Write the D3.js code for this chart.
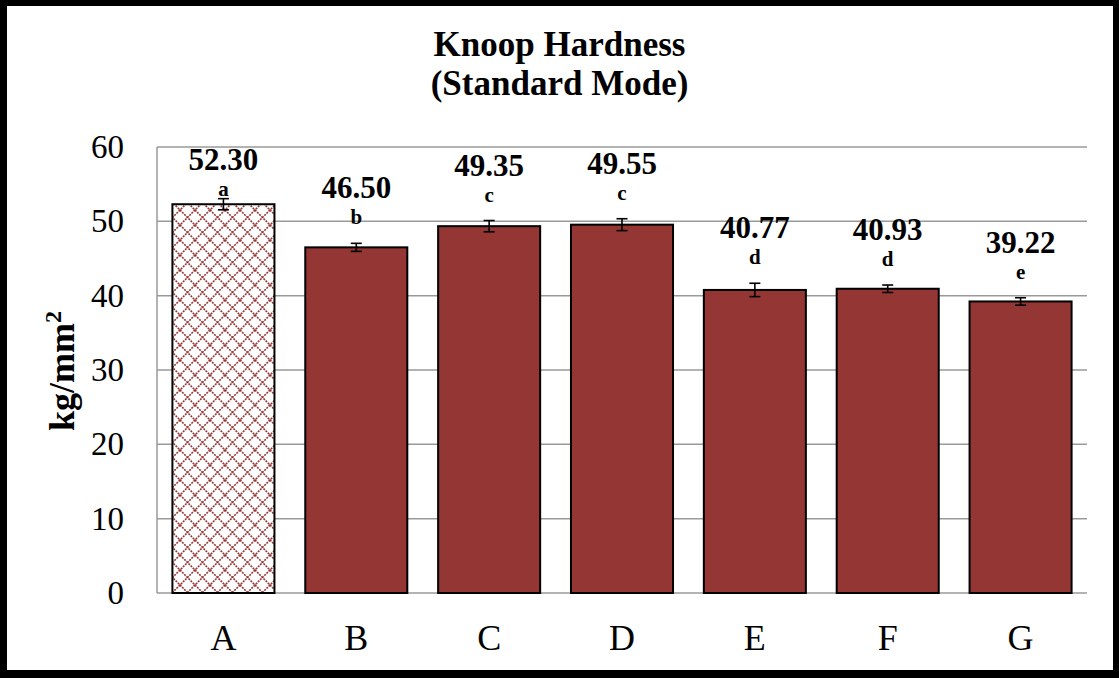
<!DOCTYPE html>
<html><head><meta charset="utf-8">
<script src="https://cdn.jsdelivr.net/npm/d3@7"></script>
<style>body{margin:0;background:#fff}svg{display:block}</style>
</head><body>
<svg id="c" width="1119" height="678"></svg>
<script>
const categories = ["A","B","C","D","E","F","G"];
const values = [52.30, 46.50, 49.35, 49.55, 40.77, 40.93, 39.22];
const errors = [0.75, 0.54, 0.76, 0.80, 0.90, 0.50, 0.50];
const letters = ["a","b","c","c","d","d","e"];
const yTicks = [0,10,20,30,40,50,60];
const patterned = [true,false,false,false,false,false,false];

const W = 1119, H = 678;
const svg = d3.select("#c");
const serif = "'Liberation Serif','Times New Roman',serif";
const barColor = "#943634";

svg.append("rect").attr("width",W).attr("height",H).attr("fill","#fff");

const defs = svg.append("defs");
const pat = defs.append("pattern").attr("id","lattice").attr("patternUnits","userSpaceOnUse")
  .attr("width",15).attr("height",15);
pat.append("rect").attr("width",15).attr("height",15).attr("fill","#fff");
pat.append("path").attr("d","M0,0 L15,15 M15,0 L0,15 M-1,14 L1,16 M14,-1 L16,1 M14,16 L16,14 M-1,1 L1,-1")
  .attr("stroke",barColor).attr("stroke-width",1.6).attr("stroke-dasharray","2,1");

const m = {left:157, right:1087, top:147, bottom:593};
const x = d3.scaleBand().domain(categories).range([m.left,m.right]).paddingInner(0.232).paddingOuter(0.116);
const y = d3.scaleLinear().domain([0,60]).range([m.bottom,m.top]);

svg.append("g").selectAll("line").data(yTicks).join("line")
  .attr("x1",m.left).attr("x2",m.right).attr("y1",d=>y(d)).attr("y2",d=>y(d))
  .attr("stroke","#9a9a9a").attr("stroke-width",1.5);
svg.append("line").attr("x1",m.left).attr("x2",m.left).attr("y1",y(60)).attr("y2",y(0))
  .attr("stroke","#9a9a9a").attr("stroke-width",1.5);

const yAxis = d3.axisLeft(y).tickValues(yTicks).tickSize(0).tickPadding(33).tickFormat(d3.format("d"));
const gy = svg.append("g").attr("transform",`translate(${m.left},0)`).call(yAxis);
gy.select(".domain").remove();
gy.selectAll("text").attr("font-family",serif).attr("font-size",33).attr("fill","#000");

const xAxis = d3.axisBottom(x).tickSize(0).tickPadding(0);
const gx = svg.append("g").attr("transform",`translate(0,${m.bottom})`).call(xAxis);
gx.select(".domain").remove();
gx.selectAll("text").attr("font-family",serif).attr("font-size",36).attr("fill","#000")
  .attr("dy",null).attr("y",57);

const data = categories.map((c,i)=>({c,v:values[i],e:errors[i],l:letters[i],p:patterned[i]}));
svg.append("g").selectAll("rect").data(data).join("rect")
  .attr("x",d=>x(d.c)).attr("width",x.bandwidth())
  .attr("y",d=>y(d.v)).attr("height",d=>y(0)-y(d.v))
  .attr("fill",d=>d.p?"url(#lattice)":barColor)
  .attr("stroke","#000").attr("stroke-width",2);

const eg = svg.append("g").attr("stroke","#000").attr("stroke-width",1.6);
data.forEach(d=>{
  const cx = x(d.c)+x.bandwidth()/2;
  eg.append("line").attr("x1",cx).attr("x2",cx).attr("y1",y(d.v+d.e)).attr("y2",y(d.v-d.e));
  eg.append("line").attr("x1",cx-5.5).attr("x2",cx+5.5).attr("y1",y(d.v+d.e)).attr("y2",y(d.v+d.e));
  eg.append("line").attr("x1",cx-5.5).attr("x2",cx+5.5).attr("y1",y(d.v-d.e)).attr("y2",y(d.v-d.e));
});

// value label over significance letter
const lg = svg.append("g").attr("font-family",serif).attr("font-weight","bold").attr("text-anchor","middle").attr("fill","#000");
data.forEach(d=>{
  const cx = x(d.c)+x.bandwidth()/2;
  let letterBase = y(d.v+d.e) - 19;
  letterBase = Math.max(letterBase, m.top + 49);
  lg.append("text").attr("x",cx).attr("y",letterBase).attr("font-size",21).text(d.l);
  lg.append("text").attr("x",cx).attr("y",letterBase-26).attr("font-size",31).text(d.v.toFixed(2));
});

const tg = svg.append("g").attr("font-family",serif).attr("font-weight","bold").attr("text-anchor","middle").attr("font-size",35);
tg.append("text").attr("x",W/2).attr("y",56).text("Knoop Hardness");
tg.append("text").attr("x",W/2).attr("y",95).text("(Standard Mode)");

const yt = svg.append("text").attr("transform","translate(74,371) rotate(-90)")
  .attr("font-family",serif).attr("font-weight","bold").attr("font-size",36).attr("text-anchor","middle");
yt.append("tspan").text("kg/mm");
yt.append("tspan").attr("font-size",24).attr("dy",-13).text("2");

svg.append("rect").attr("x",0).attr("y",0).attr("width",W).attr("height",6).attr("fill","#000");
svg.append("rect").attr("x",0).attr("y",670).attr("width",W).attr("height",8).attr("fill","#000");
svg.append("rect").attr("x",0).attr("y",0).attr("width",7).attr("height",H).attr("fill","#000");
svg.append("rect").attr("x",1113).attr("y",0).attr("width",6).attr("height",H).attr("fill","#000");
</script>
</body></html>
